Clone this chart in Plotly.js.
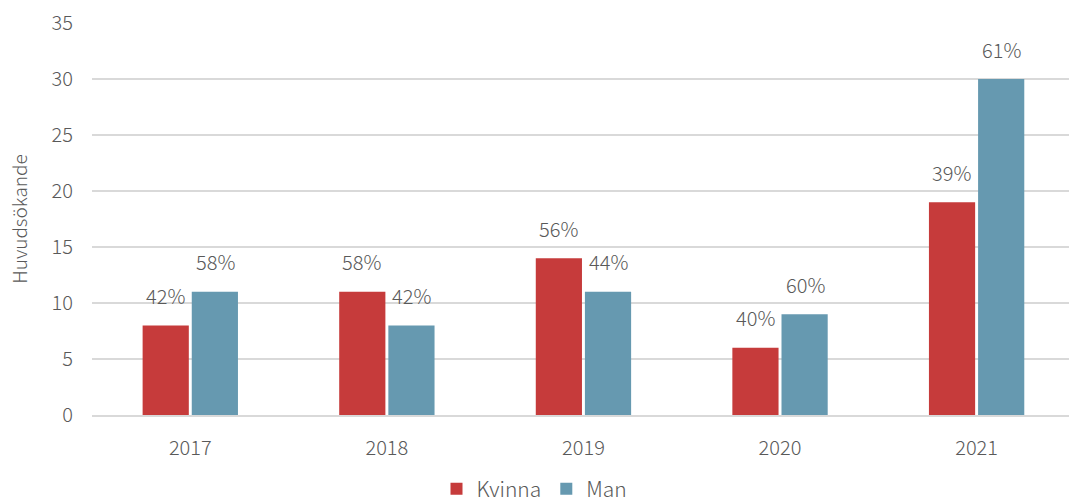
<!DOCTYPE html>
<html>
<head>
<meta charset="utf-8">
<script src="https://cdn.plot.ly/plotly-3.0.1.min.js"></script>
<style>html,body{margin:0;padding:0;background:#fff;}</style>
</head>
<body>
<div id="chart" style="width:1069px;height:504px;"></div>
<script>
const years = ['2017', '2018', '2019', '2020', '2021'];
const kvinna = [8, 11, 14, 6, 19];
const man = [11, 8, 11, 9, 30];
const kvinnaPct = ['42%', '58%', '56%', '40%', '39%'];
const manPct = ['58%', '42%', '44%', '60%', '61%'];

const font = "Noto Sans CJK JP, Noto Sans, sans-serif";
const textColor = '#595959';

const traces = [
  {type: 'bar', name: 'Kvinna', x: years, y: kvinna, marker: {color: '#C63B3B'}, hoverinfo: 'skip'},
  {type: 'bar', name: 'Man', x: years, y: man, marker: {color: '#6699B0'}, hoverinfo: 'skip'}
];

const annotations = [];
years.forEach((yr, i) => {
  annotations.push({xref: 'x', yref: 'y', x: i, y: kvinna[i], text: kvinnaPct[i], showarrow: false, xshift: -25, yshift: 30, yanchor: 'middle', font: {family: font, size: 20, color: textColor, weight: 300}});
  annotations.push({xref: 'x', yref: 'y', x: i, y: man[i], text: manPct[i], showarrow: false, xshift: 25, yshift: 30, yanchor: 'middle', font: {family: font, size: 20, color: textColor, weight: 300}});
});

const layout = {
  width: 1069, height: 504,
  margin: {l: 92, r: 0, t: 23, b: 89},
  paper_bgcolor: '#fff', plot_bgcolor: '#fff',
  font: {family: font, color: textColor, size: 20, weight: 300},
  barmode: 'group', bargap: 0.5, bargroupgap: 0.06,
  xaxis: {type: 'category', range: [-0.5, 4.47], showgrid: false, zeroline: false, showline: true, linecolor: '#D9D9D9', linewidth: 2, ticks: '', ticklabelstandoff: 14, tickfont: {size: 20, color: textColor, weight: 300}, fixedrange: true},
  yaxis: {range: [0, 35], dtick: 5, showgrid: true, gridcolor: '#D9D9D9', gridwidth: 2, zeroline: false, showline: false, ticks: '', ticklabelstandoff: 18, tickfont: {size: 20, color: textColor, weight: 300},
    title: {text: 'Huvudsökande', font: {size: 19, color: textColor, weight: 300}, standoff: 18}},
  legend: {orientation: 'h', x: 0.5, xanchor: 'center', xref: 'container', y: 0.07, yanchor: 'top', yref: 'container', font: {size: 21, color: textColor, weight: 300}, itemwidth: 30, traceorder: 'normal'},
  annotations: annotations,
  showlegend: true
};

Plotly.newPlot('chart', traces, layout, {displayModeBar: false, staticPlot: true});
</script>
</body>
</html>
